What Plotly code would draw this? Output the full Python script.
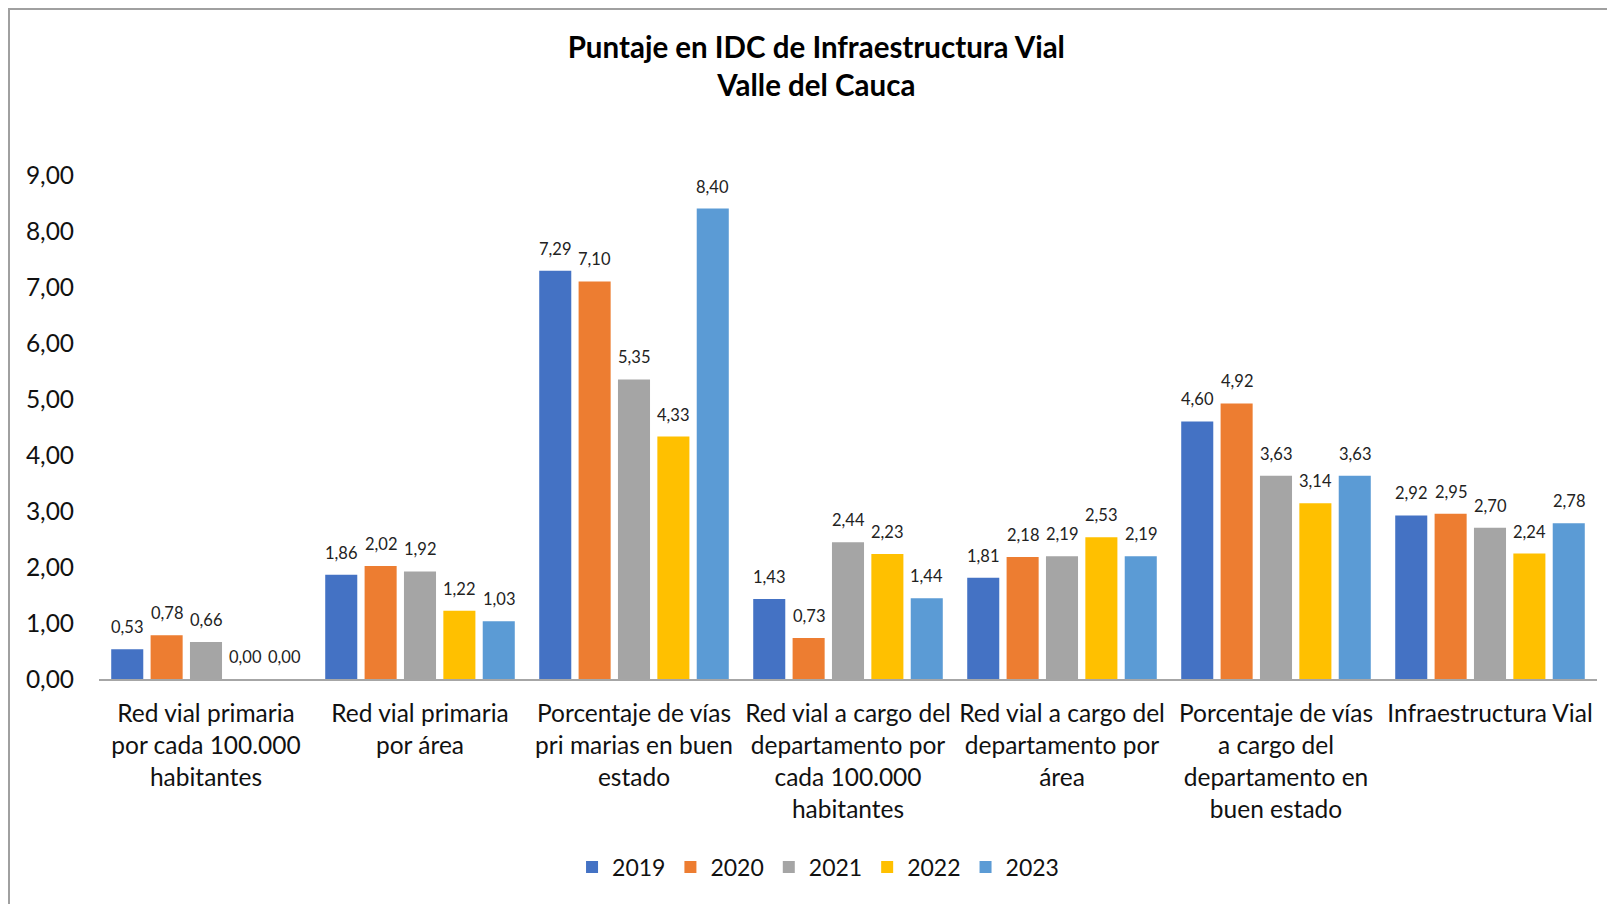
import plotly.graph_objects as go

categories = [
    "Red vial primaria<br>por cada 100.000<br>habitantes",
    "Red vial primaria<br>por área",
    "Porcentaje de vías<br>pri marias en buen<br>estado",
    "Red vial a cargo del<br>departamento por<br>cada 100.000<br>habitantes",
    "Red vial a cargo del<br>departamento por<br>área",
    "Porcentaje de vías<br>a cargo del<br>departamento en<br>buen estado",
    "Infraestructura Vial",
]
years = ["2019", "2020", "2021", "2022", "2023"]
v2019 = [0.53, 1.86, 7.29, 1.43, 1.81, 4.60, 2.92]
v2020 = [0.78, 2.02, 7.10, 0.73, 2.18, 4.92, 2.95]
v2021 = [0.66, 1.92, 5.35, 2.44, 2.19, 3.63, 2.70]
v2022 = [0.00, 1.22, 4.33, 2.23, 2.53, 3.14, 2.24]
v2023 = [0.00, 1.03, 8.40, 1.44, 2.19, 3.63, 2.78]
series = [v2019, v2020, v2021, v2022, v2023]
colors = ["#4472C4", "#ED7D31", "#A5A5A5", "#FFC000", "#5B9BD5"]

FONT = "Lato, Open Sans, sans-serif"

# figure size compensates the 8px default body margin of the page
W, H = 1607, 896
L, R, T, B = 91, 18, 167, 225
PW, PH = W - L - R, H - T - B
BARGAP, BGG = 0.08, 0.186
slot = PW / len(categories) * (1 - BARGAP) / len(years)

fig = go.Figure()
annotations = []
for i, (name, vals, col) in enumerate(zip(years, series, colors)):
    fig.add_trace(go.Bar(
        x=categories, y=vals, name=name,
        marker=dict(color=col, line=dict(width=0)),
    ))
    for cat, v in zip(categories, vals):
        annotations.append(dict(
            x=cat, y=v, xref="x", yref="y",
            text=f"{v:.2f}".replace(".", ","), showarrow=False,
            xshift=(i - (len(years) - 1) / 2) * slot, yshift=22,
            font=dict(size=16.5, family=FONT, color="#222222"),
        ))

fig.update_layout(
    width=W, height=H,
    separators=", ",
    paper_bgcolor="white", plot_bgcolor="white",
    barmode="group", bargap=BARGAP, bargroupgap=BGG,
    margin=dict(l=L, r=R, t=T, b=B),
    font=dict(family=FONT, color="#111111"),
    title=dict(
        text="<b>Puntaje en IDC de Infraestructura Vial<br>Valle del Cauca</b>",
        x=0.503, xanchor="center", y=1 - 50 / H, yanchor="middle",
        font=dict(size=29.5, family=FONT, color="#000000"),
    ),
    legend=dict(
        orientation="h", x=0.48, xanchor="center",
        y=-(859 - (H - B)) / PH, yanchor="middle",
        font=dict(size=23, family=FONT, color="#111111"),
        itemclick=False,
    ),
    xaxis=dict(
        showline=True, linecolor="#A6A6A6", linewidth=2,
        showgrid=False, ticks="", tickangle=0, ticklabelstandoff=12,
        tickfont=dict(size=24.5, family=FONT, color="#111111"),
    ),
    yaxis=dict(
        range=[0, 9], dtick=1, tickformat=".2f",
        showgrid=False, zeroline=False, showline=False,
        ticks="outside", ticklen=19, tickcolor="rgba(0,0,0,0)",
        tickfont=dict(size=24.5, family=FONT, color="#111111"),
    ),
    annotations=annotations,
    shapes=[dict(
        type="rect", xref="paper", yref="paper",
        x0=(1 - L) / PW, x1=1.1,
        y0=-0.6, y1=((H - B) - 1) / PH,
        line=dict(color="#A0A0A0", width=2), fillcolor="rgba(0,0,0,0)",
        layer="below",
    )],
)

fig.write_html("out.html")
